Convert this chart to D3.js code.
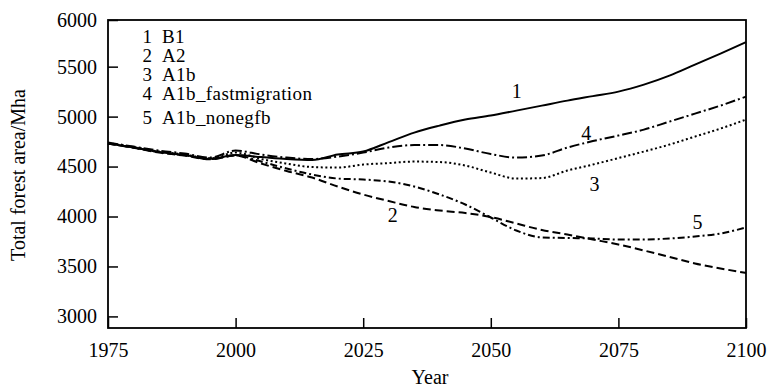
<!DOCTYPE html>
<html>
<head>
<meta charset="utf-8">
<script src="https://cdn.jsdelivr.net/npm/d3@7"></script>
<style>
  body { margin: 0; background: #fff; }
  text { font-family: "Liberation Serif", "Times New Roman", serif; fill: #000; }
</style>
</head>
<body>
<svg id="chart" width="774" height="389"></svg>
<script>
// years on the x axis
const years = [1975, 1980, 1985, 1990, 1995, 2000, 2005, 2010, 2015, 2020, 2025, 2030, 2035,
               2040, 2045, 2050, 2055, 2060, 2065, 2070, 2075, 2080, 2085, 2090, 2095, 2100];

// total forest area (Mha) per scenario
const b1 = [4730, 4690, 4645, 4615, 4578, 4615, 4595, 4575, 4565, 4620, 4650, 4745, 4840,
            4910, 4970, 5010, 5060, 5110, 5160, 5205, 5250, 5320, 5410, 5520, 5630, 5745];
const a2 = [4730, 4688, 4640, 4610, 4572, 4610, 4530, 4455, 4390, 4300, 4220, 4155, 4095,
            4060, 4035, 3995, 3930, 3865, 3820, 3770, 3720, 3660, 3595, 3530, 3480, 3435];
const a1b = [4735, 4695, 4650, 4620, 4582, 4640, 4575, 4530, 4495, 4490, 4520, 4535, 4550,
             4545, 4510, 4440, 4380, 4385, 4460, 4520, 4585, 4650, 4720, 4800, 4880, 4970];
const a1bFast = [4740, 4700, 4660, 4630, 4590, 4660, 4620, 4590, 4575, 4600, 4640, 4690, 4715,
                 4715, 4680, 4625, 4590, 4610, 4690, 4755, 4810, 4870, 4950, 5030, 5110, 5200];
const a1bNoneg = [4730, 4690, 4645, 4612, 4575, 4612, 4550, 4480, 4420, 4380, 4370, 4350, 4300,
                  4220, 4120, 3990, 3860, 3790, 3785, 3780, 3770, 3770, 3780, 3800, 3830, 3890];

const seriesNames = ["B1", "A2", "A1b", "A1b_fastmigration", "A1b_nonegfb"];
const seriesValues = [b1, a2, a1b, a1bFast, a1bNoneg];

const yTicks = [3000, 3500, 4000, 4500, 5000, 5500, 6000];
const xTicks = [1975, 2000, 2025, 2050, 2075, 2100];

// curve number labels: [year, value]
const labelAnchors = [[2055.1, 5257], [2030.8, 4017], [2070.3, 4327], [2068.7, 4837], [2090.5, 3947]];

// styles
const dashes = [null, "8,4", "2,2.6", "10,3,2,3", "7,3,2,3"];
const legendBaselines = [43, 62, 81, 100, 124];

const svg = d3.select("#chart");
const plotL = 108, plotR = 746, plotT = 20, plotB = 328;

const x = d3.scaleLinear().domain([1975, 2100]).range([plotL, plotR]);
const y = d3.scaleLinear().domain([2884, 5967]).range([plotB, plotT]).clamp(true);

// axes with inward ticks
const xAxis = svg.append("g")
    .attr("transform", "translate(0," + plotB + ")")
    .call(d3.axisBottom(x).tickValues(xTicks).tickFormat(d3.format("d"))
        .tickSizeInner(-10).tickSizeOuter(0).tickPadding(15));
const yAxis = svg.append("g")
    .attr("transform", "translate(" + plotL + ",0)")
    .call(d3.axisLeft(y).tickValues(yTicks).tickFormat(d3.format("d"))
        .tickSizeInner(-10).tickSizeOuter(0).tickPadding(11));

[xAxis, yAxis].forEach(g => {
    g.select(".domain").remove();
    g.selectAll("line").attr("stroke", "#000").attr("stroke-width", 1.5);
    g.selectAll("text").style("font-size", "20px").style("font-family", '"Liberation Serif", serif');
});

// frame
svg.append("rect")
    .attr("x", plotL).attr("y", plotT)
    .attr("width", plotR - plotL).attr("height", plotB - plotT)
    .attr("fill", "none").attr("stroke", "#000").attr("stroke-width", 1.8);

// lines
const line = d3.line()
    .x((d, i) => x(years[i]))
    .y(d => y(d))
    .curve(d3.curveMonotoneX);

seriesValues.forEach((vals, i) => {
    svg.append("path")
        .datum(vals)
        .attr("d", line)
        .attr("fill", "none")
        .attr("stroke", "#000")
        .attr("stroke-width", 2)
        .attr("stroke-dasharray", dashes[i]);
});

// curve labels
labelAnchors.forEach((d, i) => {
    svg.append("text")
        .attr("x", x(d[0]))
        .attr("y", y(d[1]))
        .attr("dy", "0.35em")
        .attr("text-anchor", "middle")
        .style("font-size", "20px")
        .text(i + 1);
});

// legend
seriesNames.forEach((name, i) => {
    svg.append("text")
        .attr("x", 152).attr("y", legendBaselines[i])
        .attr("text-anchor", "end")
        .style("font-size", "19px")
        .text(i + 1);
    svg.append("text")
        .attr("x", 162).attr("y", legendBaselines[i])
        .style("font-size", "19px")
        .style("letter-spacing", "0.4px")
        .text(name);
});

// axis titles
svg.append("text")
    .attr("x", 430).attr("y", 384)
    .attr("text-anchor", "middle")
    .style("font-size", "20px")
    .text("Year");

svg.append("text")
    .attr("transform", "translate(25,175) rotate(-90)")
    .attr("text-anchor", "middle")
    .style("font-size", "20px")
    .text("Total forest area/Mha");
</script>
</body>
</html>
